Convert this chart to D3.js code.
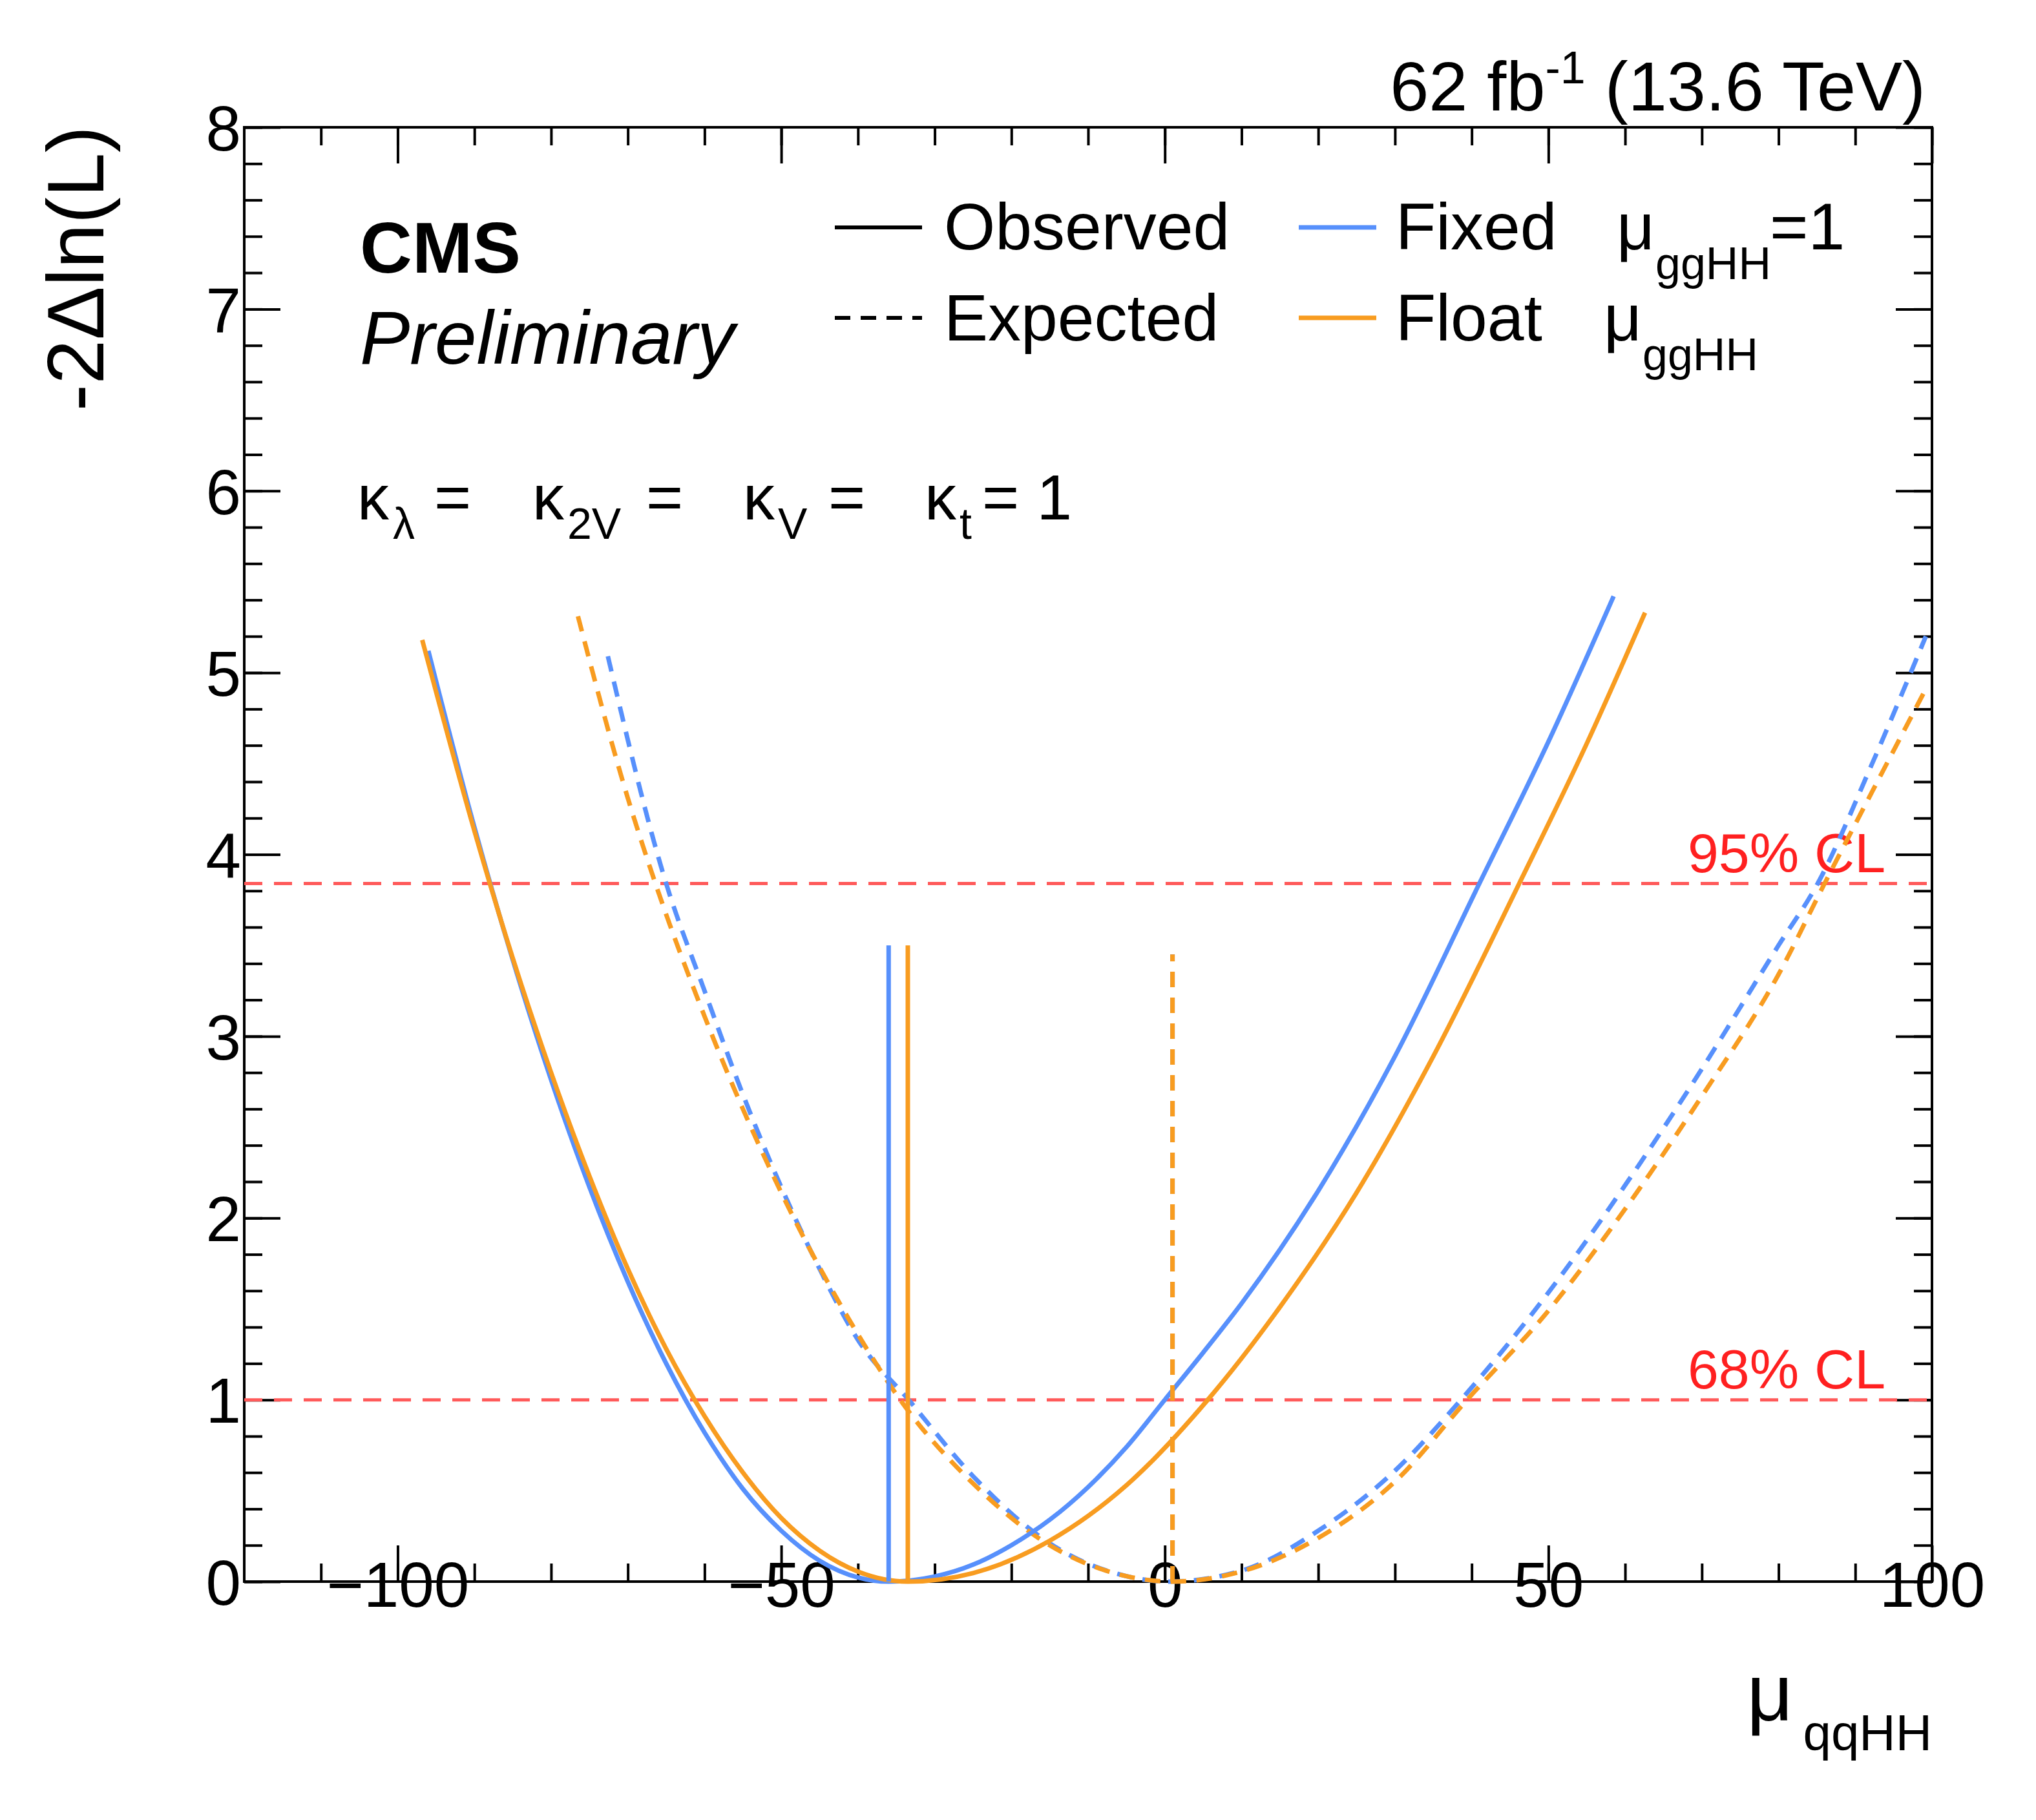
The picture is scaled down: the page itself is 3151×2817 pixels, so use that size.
<!DOCTYPE html>
<html><head><meta charset="utf-8">
<script src="https://cdn.jsdelivr.net/npm/d3@7"></script>
<style>body{margin:0;background:#fff}text{font-family:"Liberation Sans",Arial,sans-serif}</style>
</head><body><svg id="c" width="3151" height="2817"></svg>
<script>
// scan points, [mu_qqHH, -2dlnL]
const obsFixed = [[-96,5.12],[-90,4.15],[-85,3.42],[-80,2.76],[-75,2.17],[-70,1.65],[-65,1.2],[-60,0.82],[-55,0.51],[-50,0.28],[-45,0.115],[-40,0.023],[-36,0],[-30,0.028],[-25,0.093],[-20,0.2],[-15,0.34],[-10,0.52],[-5,0.74],[0,1.0],[5,1.26],[10,1.53],[20,2.15],[30,2.89],[41,3.84],[50,4.62],[58.5,5.42]];
const obsFloat = [[-96.8,5.18],[-90,4.13],[-85,3.43],[-80,2.8],[-75,2.23],[-70,1.72],[-65,1.28],[-60,0.91],[-55,0.6],[-50,0.35],[-45,0.17],[-40,0.055],[-33.5,0],[-25,0.047],[-15,0.225],[-5,0.53],[5.6,1.0],[15,1.51],[25,2.14],[35,2.89],[46.2,3.84],[55,4.61],[62.6,5.33]];
const expFixed = [[-72.6,5.09],[-65,3.84],[-60,3.25],[-55,2.68],[-50,2.17],[-45,1.72],[-40,1.33],[-33.4,1.0],[-25,0.58],[-15,0.21],[-5,0.03],[0.5,0],[10,0.06],[20,0.28],[30,0.61],[38.6,1.0],[50,1.59],[60,2.18],[70,2.82],[80,3.5],[85.1,3.84],[92,4.48],[99.2,5.2]];
const expFloat = [[-76.5,5.31],[-70,4.31],[-66.4,3.84],[-60,3.11],[-50,2.14],[-40,1.36],[-34.5,1.0],[-25,0.54],[-15,0.2],[-5,0.03],[1,0],[10,0.056],[20,0.24],[30,0.55],[39.4,1.0],[50,1.49],[60,2.05],[70,2.67],[80,3.34],[86,3.84],[93,4.41],[99.2,4.91]];
const bestFits = [{x:-36,top:3.5,c:"blue",dash:false},{x:1,top:3.45,c:"blue",dash:true},{x:-33.5,top:3.5,c:"orange",dash:false},{x:1,top:3.45,c:"orange",dash:true}];
const clLevels = [{y:3.84,label:"95% CL"},{y:1,label:"68% CL"}];
const xTicks = [-100,-50,0,50,100];
const yTicks = [0,1,2,3,4,5,6,7,8];

const col = {blue:"#5790fc", orange:"#f89c20"};
const L=378,R=2990,T=197,B=2448;
const svg = d3.select("#c");
const x = d3.scaleLinear().domain([-120,100]).range([L,R]);
const y = d3.scaleLinear().domain([0,8]).range([B,T]);
const line = d3.line().x(d=>x(d[0])).y(d=>y(d[1])).curve(d3.curveMonotoneX);

// axes with inward ticks
function ax(gen, tr, vals, size, labels){
  const g = svg.append("g").attr("transform",tr).call(gen.tickValues(vals).tickSize(size).tickFormat(labels?(d=>d<0?"\u2212"+(-d):d):""));
  g.select(".domain").remove();
  g.selectAll("line").attr("stroke","#000").attr("stroke-width",4);
  g.selectAll("text").attr("font-size",98).attr("fill","#000");
  return g;
}
const xMin = d3.range(-110,101,10), yMin = d3.range(0,8.01,0.2);
ax(d3.axisBottom(x),`translate(0,${B})`,xMin,-28,false);
ax(d3.axisBottom(x),`translate(0,${B})`,xTicks,-56,true).selectAll("text").attr("dy",36);
ax(d3.axisTop(x),`translate(0,${T})`,xMin,-28,false);
ax(d3.axisTop(x),`translate(0,${T})`,xTicks,-56,false);
ax(d3.axisLeft(y),`translate(${L},0)`,yMin,-28,false);
ax(d3.axisLeft(y),`translate(${L},0)`,yTicks,-56,true).selectAll("text").attr("dx",-2).attr("dy","0.36em");
ax(d3.axisRight(y),`translate(${R},0)`,yMin,-28,false);
ax(d3.axisRight(y),`translate(${R},0)`,yTicks,-56,false);
svg.append("rect").attr("x",L).attr("y",T).attr("width",R-L).attr("height",B-T).attr("fill","none").attr("stroke","#000").attr("stroke-width",4);

// CL lines
clLevels.forEach(c=>{
  svg.append("line").attr("x1",L).attr("x2",R).attr("y1",y(c.y)).attr("y2",y(c.y))
    .attr("stroke","#ff5a5a").attr("stroke-width",5).attr("stroke-dasharray","28,18");
  svg.append("text").attr("x",2918).attr("y",y(c.y)-18).attr("text-anchor","end")
    .attr("font-size",86).attr("fill","#ff2020").text(c.label);
});

// curves
[[expFixed,"blue",true],[expFloat,"orange",true],[obsFixed,"blue",false],[obsFloat,"orange",false]].forEach(([d,c,dash])=>{
  svg.append("path").attr("d",line(d)).attr("fill","none").attr("stroke",col[c]).attr("stroke-width",7)
    .attr("stroke-dasharray",dash?"24,16":null);
});
bestFits.forEach(b=>{
  svg.append("line").attr("x1",x(b.x)).attr("x2",x(b.x)).attr("y1",y(0)).attr("y2",y(b.top))
    .attr("stroke",col[b.c]).attr("stroke-width",7).attr("stroke-dasharray",b.dash?"24,16":null);
});

// texts
const t = (xx,yy,s,fs,o={})=>{const e=svg.append("text").attr("x",xx).attr("y",yy).attr("font-size",fs).text(s);
  for(const k in o) e.attr(k,o[k]); return e;};
const lum = t(2980,171,"",108,{"text-anchor":"end"});
lum.append("tspan").text("62 fb");
lum.append("tspan").attr("font-size",70).attr("dy",-42).text("-1");
lum.append("tspan").attr("dy",42).text(" (13.6 TeV)");
t(0,0,"-2\u0394ln(L)",124,{"text-anchor":"end",transform:"translate(160,195) rotate(-90)"});
t(2775,2663,"\u03bc",124,{"text-anchor":"end"});
t(2990,2709,"qqHH",78,{"text-anchor":"end"});
t(557,422,"CMS",112,{"font-weight":"bold"});
t(557,563,"Preliminary",116,{"font-style":"italic"});

// legend
svg.append("line").attr("x1",1292).attr("x2",1427).attr("y1",352).attr("y2",352).attr("stroke","#000").attr("stroke-width",6);
svg.append("line").attr("x1",1292).attr("x2",1427).attr("y1",492).attr("y2",492).attr("stroke","#000").attr("stroke-width",6).attr("stroke-dasharray","24,16");
t(1461,386,"Observed",102); t(1461,527,"Expected",102);
svg.append("line").attr("x1",2010).attr("x2",2130).attr("y1",352).attr("y2",352).attr("stroke",col.blue).attr("stroke-width",7);
svg.append("line").attr("x1",2010).attr("x2",2130).attr("y1",492).attr("y2",492).attr("stroke",col.orange).attr("stroke-width",7);
t(2160,386,"Fixed",102); t(2502,386,"\u03bc",102); t(2562,432,"ggHH",70); t(2739,386,"=1",102);
t(2160,527,"Float",102); t(2482,527,"\u03bc",102); t(2542,573,"ggHH",70);

// kappa line
[[553,"\u03ba",98,804],[608,"\u03bb",68,834],[672,"=",98,804],[824,"\u03ba",98,804],[878,"2V",68,834],[1000,"=",98,804],
 [1150,"\u03ba",98,804],[1204,"V",68,834],[1282,"=",98,804],[1431,"\u03ba",98,804],[1485,"t",68,834],[1520,"= 1",98,804]]
 .forEach(([xx,s,fs,yy])=>t(xx,yy,s,fs));
</script></body></html>
